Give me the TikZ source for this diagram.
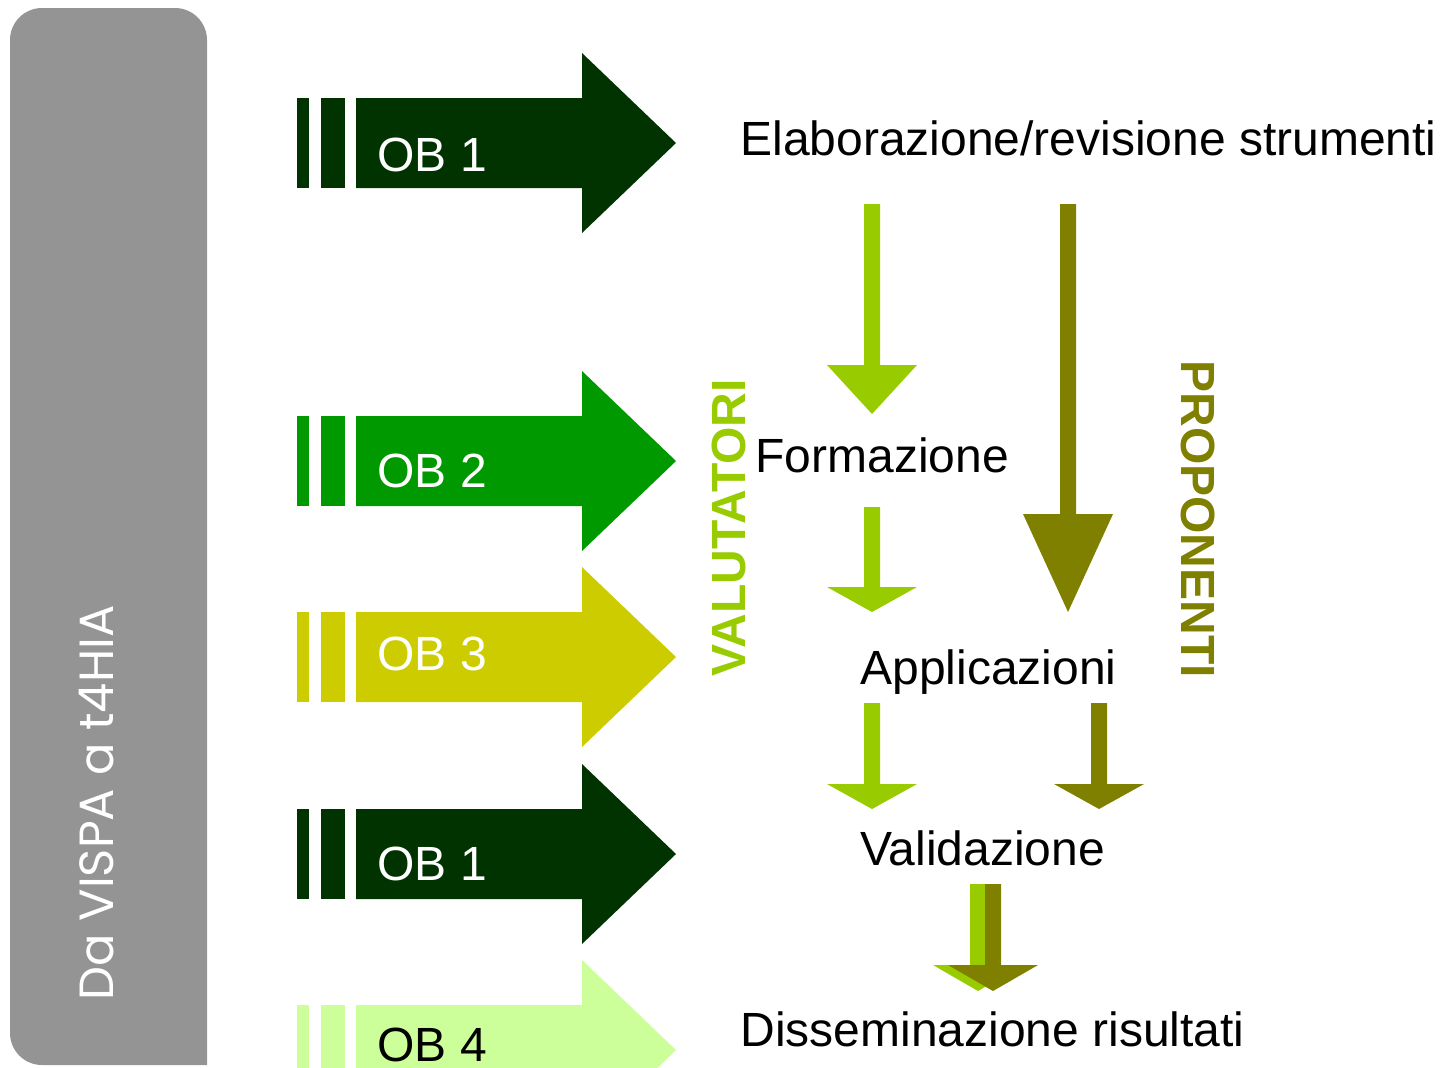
\documentclass[tikz,border=0pt]{standalone}
\usepackage{fontspec}
\setmainfont{Liberation Sans}
\newfontfamily\vispafont{Poppins}
\usetikzlibrary{positioning}

\definecolor{obdark}{HTML}{003300}
\definecolor{obgreen}{HTML}{009900}
\definecolor{obyellow}{HTML}{CCCC00}
\definecolor{oblight}{HTML}{CCFF99}
\definecolor{valgreen}{HTML}{99CC00}
\definecolor{propolive}{HTML}{808000}
\definecolor{bargrey}{HTML}{949494}

\tikzset{
  lbl/.style={inner sep=0pt, anchor=base west, font=\fontsize{24}{29}\selectfont},
  oblbl/.style={lbl, text=white},
  sidelbl/.style={inner sep=0pt, font=\bfseries\fontsize{24}{29}\selectfont}
}

% OB arrow: name, centre y, fill, label baseline, label style, text
\newcommand{\obarrow}[6]{%
  \fill[#3] (297,#2-45) rectangle (309,#2+45);
  \fill[#3] (321,#2-45) rectangle (345,#2+45);
  \fill[#3] (356,#2-45) -- (582,#2-45) -- (582,#2-90) -- (676,#2)
    -- (582,#2+90) -- (582,#2+45) -- (356,#2+45) -- cycle;
  \node[#5] (#1) at (377,#4) {#6};
}
% down arrow: colour, centre x, shaft top, head top, tip
\newcommand{\dnarrow}[5]{%
  \fill[#1] (#2-8,#3) -- (#2+8,#3) -- (#2+8,#4) -- (#2+45,#4) -- (#2,#5)
    -- (#2-45,#4) -- (#2-8,#4) -- cycle;
}

\begin{document}
\begin{tikzpicture}[x=0.5pt,y=-0.5pt]
\useasboundingbox (0,0) rectangle (1443,1067);
\clip (0,0) rectangle (1443,1067);

% grey side bar
\fill[bargrey] (207,600) [rounded corners=16pt] -- (207,8) -- (10,8)
  -- (10,1065) [sharp corners] -- (207,1065) -- cycle;
\node[rotate=90, inner sep=0pt, text=white, font=\vispafont\fontsize{24}{29}\selectfont]
  (vispa) at (97,803) {Da VISPA a t4HIA};

% objectives
\obarrow{ob1}{143}{obdark}{171}{oblbl}{OB 1}
\obarrow{ob2}{461}{obgreen}{487}{oblbl}{OB 2}
\obarrow{ob3}{657}{obyellow}{670}{oblbl}{OB 3}
\obarrow{ob1b}{854}{obdark}{880}{oblbl}{OB 1}
\obarrow{ob4}{1050}{oblight}{1061}{lbl}{OB 4}

% phases
\node[lbl] (elab) at (740,155) {Elaborazione/revisione strumenti};
\node[lbl] (form) at (755,472) {Formazione};
\node[lbl] (appl) at (860,684) {Applicazioni};
\node[lbl] (valid) at (860,865) {Validazione};
\node[lbl] (dissem) at (740,1046) {Disseminazione risultati};

\node[sidelbl, rotate=90, text=valgreen] (valut) at (729,528) {VALUTATORI};
\node[sidelbl, rotate=-90, text=propolive] (propon) at (1198,519) {PROPONENTI};

% flows
\dnarrow{valgreen}{872}{204}{365}{414}
\dnarrow{valgreen}{872}{507}{587}{612}
\dnarrow{valgreen}{872}{703}{784}{809}
\dnarrow{propolive}{1068}{204}{514}{612}
\dnarrow{propolive}{1099}{703}{784}{809}
\dnarrow{valgreen}{978}{884}{965}{991}
\dnarrow{propolive}{993}{884}{965}{991}
\end{tikzpicture}
\end{document}
